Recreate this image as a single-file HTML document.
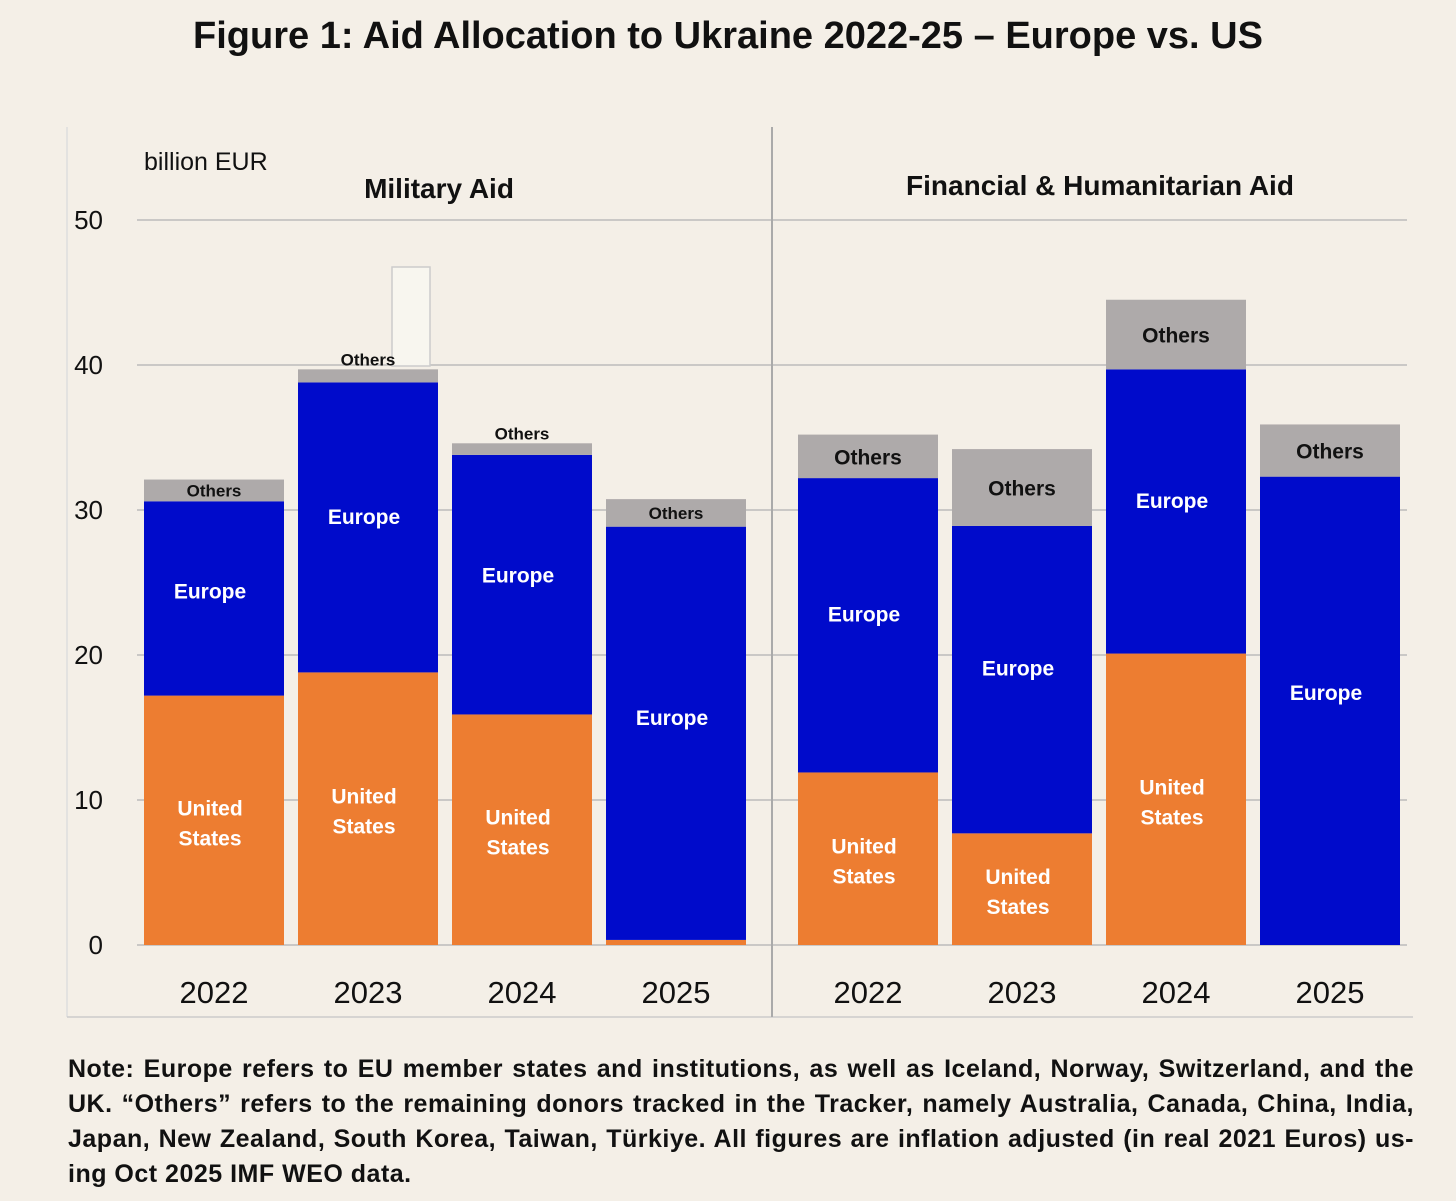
<!DOCTYPE html>
<html><head><meta charset="utf-8"><style>
body{margin:0;background:#f4efe7;width:1456px;height:1201px;overflow:hidden;font-family:"Liberation Sans",sans-serif}
#title{position:absolute;left:0;width:1456px;top:15px;text-align:center;font-size:38px;font-weight:bold;color:#111}
#note{position:absolute;left:68px;top:1052px;width:1346px;font-size:25px;font-weight:bold;line-height:35px;color:#111;letter-spacing:0.5px}
#note div{text-align:justify;text-align-last:justify;white-space:nowrap}
#note div.last{text-align-last:left}
svg{position:absolute;left:0;top:0}
</style></head><body>
<div id="title">Figure 1: Aid Allocation to Ukraine 2022-25 – Europe vs. US</div>
<svg id="chart" width="1456" height="1201"></svg>
<div id="note"><div>Note: Europe refers to EU member states and institutions, as well as Iceland, Norway, Switzerland, and the</div><div>UK. “Others” refers to the remaining donors tracked in the Tracker, namely Australia, Canada, China, India,</div><div>Japan, New Zealand, South Korea, Taiwan, Türkiye. All figures are inflation adjusted (in real 2021 Euros) us-</div><div class="last">ing Oct 2025 IMF WEO data.</div></div>
<script>
const years=["2022","2023","2024","2025"];
const milUS=[17.2,18.8,15.9,0.35];
const milEU=[13.4,20.0,17.9,28.5];
const milOT=[1.5,0.9,0.8,1.9];
const finUS=[11.9,7.7,20.1,0];
const finEU=[20.3,21.2,19.6,32.3];
const finOT=[3.0,5.3,4.8,3.6];
const ticks=[0,10,20,30,40,50];
const NS="http://www.w3.org/2000/svg";
const svg=document.getElementById('chart');
const y=v=>945-v*14.5;
function el(t,a,p){const e=document.createElementNS(NS,t);for(const k in a)e.setAttribute(k,a[k]);(p||svg).appendChild(e);return e;}
function txt(x,yy,s,size,fill,weight,anchor){const t=el('text',{x:x,y:yy,'font-size':size,fill:fill,'font-weight':weight||'normal','text-anchor':anchor||'middle','font-family':'"Liberation Sans",sans-serif'});t.textContent=s;return t;}
let f=el('line',{x1:67,y1:127,x2:67,y2:1017,stroke:'#ddd','stroke-width':1.5});

f=el('line',{x1:67,y1:1017,x2:1413,y2:1017,stroke:'#ccc','stroke-width':1.5});

ticks.forEach(t=>{
 const g=el('line',{x1:137,x2:1407,y1:y(t),y2:y(t),stroke:'#bbb','stroke-width':1.5});
 
 const l=txt(103,y(t)+9,String(t),26,'#111','normal','end');
 
});
const d=el('line',{x1:772,y1:127,x2:772,y2:1017,stroke:'#aaa','stroke-width':2});

let u=txt(144,170,'billion EUR',25,'#111','normal','start');

u=txt(439,198,'Military Aid',28,'#111','bold');

u=txt(1100,195,'Financial & Humanitarian Aid',28,'#111','bold');

u=el('rect',{x:392,y:267,width:38,height:99,fill:'#f8f6ef',stroke:'#ccc','stroke-width':1.5});

function panel(x0,us,eu,ot,name){
 years.forEach((yr,i)=>{
  const x=x0+i*154,w=140,cx=x+w/2;
  const a=us[i],b=a+eu[i],c=b+ot[i];
  let r=el('rect',{x:x,y:y(a),width:w,height:y(0)-y(a),fill:'#ed7d31'});
  
  r=el('rect',{x:x,y:y(b),width:w,height:y(a)-y(b),fill:'#000bcb'});
  
  r=el('rect',{x:x,y:y(c),width:w,height:y(b)-y(c),fill:'#aeaaaa'});
  
  if(a>3){const m=(y(0)+y(a))/2;
   let t=txt(cx-4,m-5,'United',21,'#fff','bold');
   t=txt(cx-4,m+25,'States',21,'#fff','bold');}
  const eh=y(a)-y(b);
  let t=txt(cx-4,(y(a)+y(b))/2+8-eh*0.04,'Europe',21,'#fff','bold');
  
  if(ot[i]>2.5){t=txt(cx,(y(b)+y(c))/2+8,'Others',21,'#111','bold');}
  else{t=txt(cx,y(c)-4,'Others',17,'#111','bold');if(ot[i]>1.2)t.setAttribute('y',(y(b)+y(c))/2+6);}
  
  t=txt(cx,1003,yr,31,'#111');
  
 });
}
panel(144,milUS,milEU,milOT,'military');
panel(798,finUS,finEU,finOT,'financial');
</script>
</body></html>
